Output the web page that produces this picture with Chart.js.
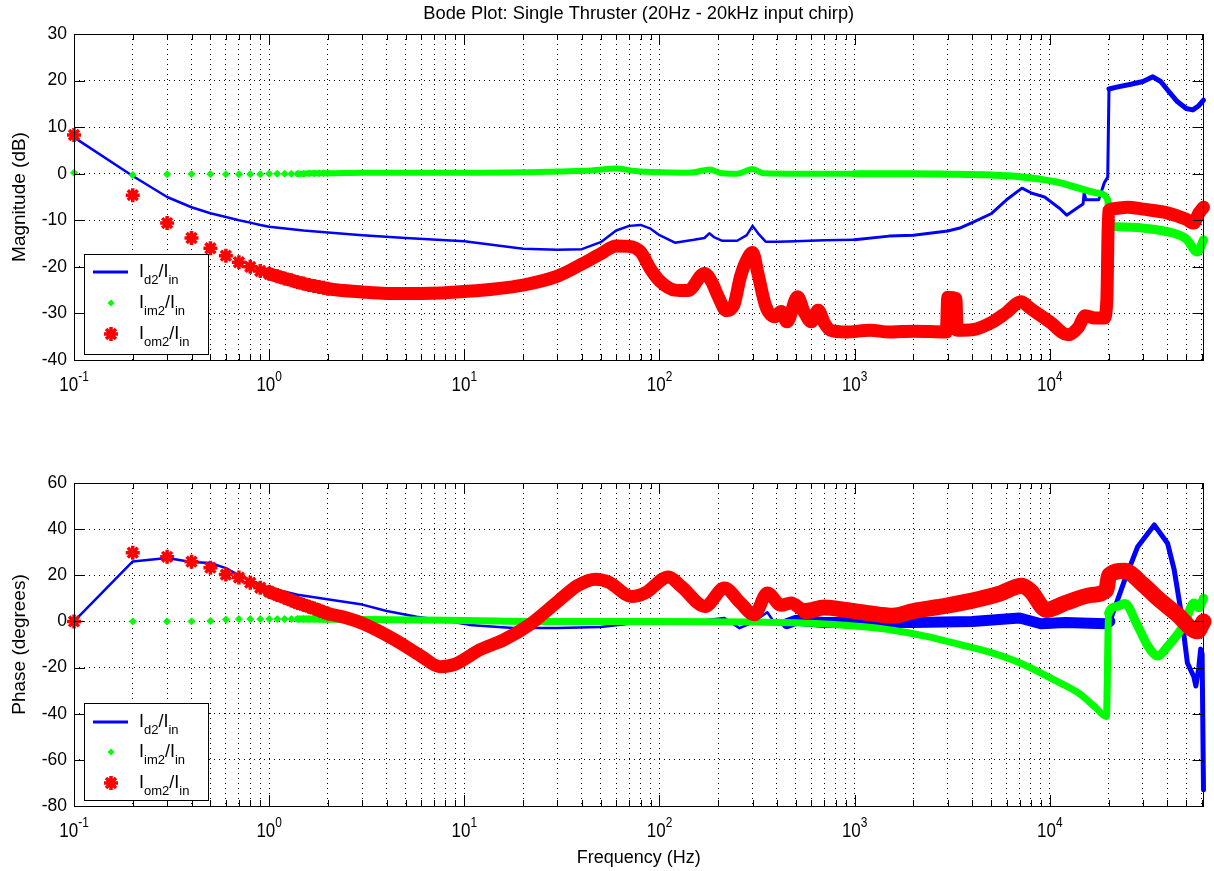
<!DOCTYPE html>
<html>
<head>
<meta charset="utf-8">
<title>Bode Plot: Single Thruster</title>
<script src="https://cdn.jsdelivr.net/npm/chart.js@4/dist/chart.umd.min.js"></script>
<style>
  html, body { margin: 0; padding: 0; background: #fff; }
  #wrap { position: relative; width: 1214px; height: 871px; overflow: hidden; }
  canvas { position: absolute; left: 0; }
  #mag { top: 0; }
  #phase { top: 410px; }
</style>
</head>
<body>
<div id="wrap">
  <canvas id="mag" width="1214" height="410"></canvas>
  <canvas id="phase" width="1214" height="461"></canvas>
</div>
<script>
const FONT = "'Liberation Sans', Arial, Helvetica, sans-serif";
Chart.defaults.font.family = FONT;
Chart.defaults.color = '#000';

const BLUE = '#0000ff';
const GREEN = '#00ff00';
const RED = '#ff0000';
const HIDDEN = 'rgba(0,0,0,0)';

const X_MIN = 0.1;
const X_MAX = 61300;
const decadeValues = [0.1, 1, 10, 100, 1000, 10000];
const decadeExponents = ['-1', '0', '1', '2', '3', '4'];
const minorSteps = [2, 3, 4, 5, 6, 7, 8, 9];
const seriesSubscripts = [['d2', 'in'], ['im2', 'in'], ['om2', 'in']];

// magnitude, dB
const idMagFreq = [0.1, 0.2, 0.3, 0.4, 0.5, 0.6, 0.7, 0.8, 0.9, 1, 1.5, 2, 3, 5, 10, 20, 30, 40, 50, 60,
  70, 80, 90, 100, 120, 150, 170, 180, 190, 210, 250, 280, 300, 320, 350, 400, 500, 700, 1000, 1500,
  2000, 3000, 3500, 4000, 5000, 6000, 7200, 8100, 9400, 11200, 12200, 14100, 14800, 15000, 15300, 17800, 19000, 19800, 20100, 22000,
  26000, 30000, 33700, 37000, 41000, 45000, 50000, 54000, 58000, 61300];
const idMagDb = [7.8, -0.5, -5.0, -7.2, -8.5, -9.3, -10.0, -10.5, -11.0, -11.4, -12.2, -12.6, -13.2, -13.8, -14.5, -16.1, -16.3, -16.2, -14.7, -12.2,
  -11.2, -11.0, -11.8, -13.2, -14.8, -14.2, -13.8, -12.8, -13.6, -14.4, -14.4, -13.2, -11.2, -12.8, -14.6, -14.6, -14.5, -14.3, -14.2, -13.4,
  -13.2, -12.3, -11.6, -10.5, -8.6, -5.6, -3.1, -4.2, -5.0, -7.4, -8.9, -7.1, -6.5, -4.1, -5.6, -5.6, -2.0, -0.7, 18.2, 18.6,
  19.2, 19.8, 20.8, 19.8, 17.5, 15.5, 14.0, 13.7, 14.6, 15.8];

const imMagFreq = [0.1, 0.2, 0.3, 0.4, 0.5, 0.6, 0.7, 0.8, 0.9, 1.0, 1.1, 1.2, 1.3, 1.4, 1.5, 1.6, 1.7, 1.8, 1.9, 2.0,
  3, 5, 10, 20, 30, 45, 60, 75, 100, 130, 150, 180, 210, 250, 300, 340, 500, 1000, 2000, 3000,
  5000, 7200, 9000, 11200, 14100, 17800, 19800, 20200, 22000, 30400, 43200, 50000, 57000, 61300];
const imMagDb = [0.2, -0.3, -0.1, -0.1, -0.1, -0.1, -0.1, -0.1, -0.1, 0, 0, 0, 0, 0, 0, 0.1, 0.1, 0.1, 0.1, 0.1,
  0.2, 0.2, 0.2, 0.3, 0.5, 0.7, 1.1, 0.6, 0.3, 0.2, 0.3, 0.9, 0.1, 0, 1.0, 0.1, 0, 0, 0, -0.1,
  -0.3, -0.7, -1.2, -1.9, -3.1, -4.2, -5.6, -11.2, -11.4, -11.7, -12.8, -14.0, -16.8, -14.2];

const omMagFreq = [0.1, 0.2, 0.3, 0.4, 0.5, 0.6, 0.7, 0.8, 0.9, 1.0, 1.1, 1.2, 1.3, 1.4, 1.5, 1.6, 1.7, 1.8, 1.9, 2.0,
  3, 4, 6, 10, 20, 30, 40, 50, 60, 70, 80, 90, 100, 120, 140, 170, 185, 200, 220, 240,
  260, 280, 300, 320, 350, 390, 420, 450, 510, 550, 600, 650, 700, 750, 900, 1200, 1500, 2000, 2950, 3000,
  3300, 3350, 4000, 5000, 6000, 7100, 8000, 10000, 12400, 14000, 15200, 17000, 19000, 19600, 20000, 21000, 25000, 30000, 40000, 50000,
  54600, 58000, 61300];
const omMagDb = [8.3, -4.6, -10.6, -13.8, -16.0, -17.6, -19.0, -20.0, -20.9, -21.5, -22.0, -22.5, -22.9, -23.3, -23.6, -23.9, -24.1, -24.3, -24.5, -24.7,
  -25.4, -25.7, -25.7, -25.3, -23.9, -22.0, -19.4, -17.2, -15.5, -15.6, -16.8, -20.5, -23.0, -25.0, -25.1, -21.4, -23.2, -26.4, -29.4, -28.3,
  -22.1, -18.5, -16.9, -21.6, -28.4, -30.7, -29.6, -31.8, -26.4, -29.6, -31.8, -29.3, -32.1, -33.6, -34.0, -33.6, -34.0, -33.8, -34.0, -26.5,
  -26.8, -33.6, -33.5, -32.0, -29.8, -27.5, -29.0, -31.8, -34.6, -33.0, -30.5, -31.0, -31.0, -27.0, -8.0, -7.5, -7.2, -7.6, -8.4, -9.8,
  -10.6, -8.5, -7.2];

// phase, degrees
const idPhFreq = [0.1, 0.2, 0.3, 0.4, 0.5, 0.6, 0.7, 0.8, 1.0, 1.4, 1.8, 3, 4, 5.7, 8, 10.6, 17.8, 30, 50, 70,
  100, 150, 215, 257, 300, 357, 380, 450, 500, 700, 1000, 2000, 4000, 7000, 9000, 12000, 19500, 20300, 22300, 24200,
  28200, 34300, 40100, 43400, 46900, 50700, 54700, 56000, 58000, 59300, 60300, 61300];
const idPhDeg = [0, 26.0, 27.5, 25.8, 25.3, 23.1, 20.0, 17.8, 14.5, 11.6, 10.2, 7.3, 4.5, 2.0, 0.3, -1.5, -2.9, -2.9, -2.4, -1.0,
  -0.3, 0, 1.5, -2.9, -0.5, 4.0, 0.6, -1.0, 0.5, -0.5, -0.5, -0.5, 0, 1.5, -1.0, -0.5, -1.0, 0, 9.6, 18.0,
  32.4, 41.8, 33.9, 22.3, 4.8, -18.0, -24.0, -28.0, -20.0, -12.0, -14.0, -73.0];

const imPhFreq = [0.1, 0.2, 0.3, 0.4, 0.5, 0.6, 0.7, 0.8, 0.9, 1.0, 1.1, 1.2, 1.3, 1.4, 1.5, 1.6, 1.7, 1.8, 1.9, 2.0,
  3, 10, 30, 100, 300, 600, 1000, 1570, 2330, 3450, 5000, 7040, 10900, 14000, 17000, 19500, 20000, 22000, 24200, 28000,
  32000, 35700, 40000, 46900, 50000, 54700, 58000, 61300];
const imPhDeg = [0, 0, 0, 0, 0.2, 0.8, 1.0, 1.0, 1.0, 1.0, 1.0, 1.0, 1.0, 1.0, 1.0, 1.0, 1.0, 1.0, 0.9, 0.9,
  0.8, 0.4, 0, 0, -0.2, -0.8, -2.0, -3.8, -6.5, -10.0, -13.5, -18.0, -26.0, -31.0, -37.0, -41.2, 3.6, 6.5, 7.8, -1.4,
  -11.0, -15.0, -11.0, -3.6, 1.0, 8.0, 6.0, 10.0];

const omPhFreq = [0.1, 0.2, 0.3, 0.4, 0.5, 0.6, 0.7, 0.8, 0.9, 1.0, 1.1, 1.2, 1.3, 1.4, 1.5, 1.6, 1.7, 1.8, 1.9, 2.0,
  2.5, 3, 4.5, 6, 7.5, 9, 12, 16, 21.5, 30, 38, 47, 55, 72, 85, 111, 130, 171, 215, 260,
  306, 357, 420, 472, 560, 700, 900, 1200, 1570, 2000, 2800, 4000, 5500, 7200, 8000, 9600, 12000, 16400, 19500, 20100,
  24000, 30000, 35700, 45000, 57000, 61300];
const omPhDeg = [0, 29.8, 28.0, 25.9, 23.3, 20.3, 19.0, 16.8, 14.6, 12.9, 11.5, 10.3, 9.1, 8.0, 7.2, 6.4, 5.6, 4.8, 4.0, 3.4,
  1.5, -0.8, -8.4, -15.0, -19.6, -18.5, -12.3, -7.9, -1.5, 8.5, 15.5, 18.3, 17.0, 10.8, 12.5, 19.3, 15.0, 6.5, 14.5, 8.0,
  2.9, 12.3, 7.0, 8.0, 4.5, 6.0, 5.0, 3.5, 2.5, 4.5, 6.5, 9.0, 12.0, 15.5, 13.0, 5.0, 8.0, 11.5, 13.7, 20.0,
  22.0, 16.0, 10.0, 3.0, -4.3, 0];

// decade + minor positions on the log axis
const xTickValues = [];
decadeValues.forEach((d) => {
  xTickValues.push(d);
  minorSteps.forEach((m) => {
    if (d * m <= X_MAX) xTickValues.push(d * m);
  });
});

function isDecade(v) {
  const l = Math.log10(v);
  return Math.abs(l - Math.round(l)) < 1e-9;
}

function pts(freq, vals) {
  return freq.map((f, i) => ({ x: f, y: vals[i] }));
}

// line width per frequency band: stops = [[upToHz, width], ...]
function byFreq(stops) {
  return (ctx) => {
    const f = ctx.p0.parsed.x;
    for (const [upTo, w] of stops) {
      if (f < upTo) return w;
    }
    return stops[stops.length - 1][1];
  };
}

const lineCommon = {
  fill: false,
  borderCapStyle: 'round',
  borderJoinStyle: 'round',
  clip: false,
};

function makeDatasets(id, im, om, widths) {
  return [
    {
      ...lineCommon,
      label: 'Id2/Iin', data: id, order: 3,
      tension: 0,
      borderColor: BLUE, borderWidth: widths.id[0][1], pointRadius: 0,
      segment: { borderWidth: byFreq(widths.id) },
    },
    {
      ...lineCommon,
      label: 'Iim2/Iin', data: im, order: 2,
      cubicInterpolationMode: 'monotone',
      borderColor: GREEN, backgroundColor: GREEN, borderWidth: widths.im[0][1],
      pointStyle: 'rectRot',
      pointRadius: (c) => (c.raw && c.raw.x <= 2 ? 3.5 : 0),
      pointBorderColor: GREEN, pointBackgroundColor: GREEN, pointBorderWidth: 1,
      segment: {
        borderWidth: byFreq(widths.im),
        borderColor: (c) => (c.p0.parsed.x < 1.4 ? HIDDEN : GREEN),
      },
    },
    {
      ...lineCommon,
      label: 'Iom2/Iin', data: om, order: 1,
      cubicInterpolationMode: 'monotone',
      borderColor: RED, backgroundColor: RED, borderWidth: widths.om[0][1],
      pointStyle: 'star',
      pointRadius: (c) => (c.raw && c.raw.x <= 2 ? 7 : 0),
      pointBorderColor: RED, pointBackgroundColor: RED, pointBorderWidth: 3.5,
      segment: {
        borderWidth: byFreq(widths.om),
        borderColor: (c) => (c.p0.parsed.x < 1 ? HIDDEN : RED),
      },
    },
  ];
}

function drawPower(ctx, cx, baseline, exp) {
  const sx = 0.85;
  ctx.font = `20px ${FONT}`;
  const w10 = ctx.measureText('10').width * sx;
  ctx.font = `14px ${FONT}`;
  const wExp = ctx.measureText(exp).width * sx;
  const left = cx - (w10 + wExp) / 2;
  ctx.save();
  ctx.translate(left, baseline);
  ctx.scale(sx, 1);
  ctx.font = `20px ${FONT}`;
  ctx.fillText('10', 0, 0);
  ctx.restore();
  ctx.save();
  ctx.translate(left + w10, baseline - 10);
  ctx.scale(sx, 1);
  ctx.font = `14px ${FONT}`;
  ctx.fillText(exp, 0, 0);
  ctx.restore();
}

function drawLegend(ctx, box) {
  const rows = box.rows;
  ctx.fillStyle = '#fff';
  ctx.fillRect(box.x, box.y, box.w, box.h);
  ctx.strokeStyle = '#000';
  ctx.lineWidth = 1;
  ctx.strokeRect(box.x + 0.5, box.y + 0.5, box.w, box.h);

  const mx = box.x + 27;
  ctx.strokeStyle = BLUE;
  ctx.lineWidth = 3;
  ctx.beginPath();
  ctx.moveTo(box.x + 9, rows[0]);
  ctx.lineTo(box.x + 44, rows[0]);
  ctx.stroke();

  // green diamond
  ctx.fillStyle = GREEN;
  ctx.beginPath();
  ctx.moveTo(mx, rows[1] - 3.5);
  ctx.lineTo(mx + 3.5, rows[1]);
  ctx.lineTo(mx, rows[1] + 3.5);
  ctx.lineTo(mx - 3.5, rows[1]);
  ctx.closePath();
  ctx.fill();

  // red star
  const r = 7, d = r * Math.SQRT1_2;
  ctx.strokeStyle = RED;
  ctx.lineWidth = 3.5;
  ctx.lineCap = 'butt';
  ctx.beginPath();
  ctx.moveTo(mx - r, rows[2]); ctx.lineTo(mx + r, rows[2]);
  ctx.moveTo(mx, rows[2] - r); ctx.lineTo(mx, rows[2] + r);
  ctx.moveTo(mx - d, rows[2] - d); ctx.lineTo(mx + d, rows[2] + d);
  ctx.moveTo(mx - d, rows[2] + d); ctx.lineTo(mx + d, rows[2] - d);
  ctx.stroke();

  ctx.fillStyle = '#000';
  seriesSubscripts.forEach(([sub1, sub2], i) => {
    const base = rows[i] + 5;
    let tx = box.x + 55;
    [['I', false], [sub1, true], ['/I', false], [sub2, true]].forEach(([txt, sub]) => {
      ctx.font = sub ? `13px ${FONT}` : `18px ${FONT}`;
      ctx.fillText(txt, tx, sub ? base + 7 : base);
      tx += ctx.measureText(txt).width;
    });
  });
}

const matlabAxes = {
  id: 'matlabAxes',
  afterDraw(chart, args, opts) {
    const { ctx, chartArea: a } = chart;
    const x = chart.scales.x;
    const y = chart.scales.y;
    ctx.save();
    ctx.strokeStyle = '#000';
    ctx.lineWidth = 1;
    ctx.beginPath();
    x.ticks.forEach((t) => {
      const px = Math.round(x.getPixelForValue(t.value)) + 0.5;
      const len = isDecade(t.value) ? 11 : 6;
      ctx.moveTo(px, a.bottom);
      ctx.lineTo(px, a.bottom - len);
      ctx.moveTo(px, a.top);
      ctx.lineTo(px, a.top + len);
    });
    y.ticks.forEach((t) => {
      const py = Math.round(y.getPixelForValue(t.value)) + 0.5;
      ctx.moveTo(a.left, py);
      ctx.lineTo(a.left + 11, py);
      ctx.moveTo(a.right, py);
      ctx.lineTo(a.right - 11, py);
    });
    ctx.stroke();
    ctx.strokeRect(Math.round(a.left) + 0.5, Math.round(a.top) + 0.5,
      Math.round(a.right - a.left) - 1, Math.round(a.bottom - a.top));

    ctx.fillStyle = '#000';
    ctx.textAlign = 'left';
    ctx.textBaseline = 'alphabetic';
    decadeValues.forEach((v, i) => {
      drawPower(ctx, x.getPixelForValue(v), a.bottom + 31, decadeExponents[i]);
    });

    drawLegend(ctx, opts.box);
    ctx.restore();
  },
};

function panelOptions(cfg) {
  const gridStyle = { color: '#000', lineWidth: 1, drawTicks: false };
  const borderStyle = { display: false, dash: [1, 4] };
  return {
    responsive: false,
    animation: false,
    events: [],
    layout: { padding: { left: 0, right: 1, top: cfg.padTop, bottom: 0 } },
    plugins: {
      legend: { display: false },
      tooltip: { enabled: false },
      title: cfg.title
        ? {
          display: true, text: cfg.title, color: '#000', fullSize: false,
          font: { size: 18.3, weight: 'normal' }, padding: { top: 3, bottom: 9.04 },
        }
        : { display: false },
      matlabAxes: { box: cfg.legendBox },
    },
    scales: {
      x: {
        type: 'logarithmic',
        min: X_MIN,
        max: X_MAX,
        afterBuildTicks: (s) => { s.ticks = xTickValues.map((v) => ({ value: v })); },
        afterFit: (s) => { s.height = cfg.xHeight; },
        ticks: { display: false, autoSkip: false },
        grid: gridStyle,
        border: borderStyle,
        title: cfg.xTitle
          ? { display: true, text: cfg.xTitle, font: { size: 18 }, padding: { top: 0, bottom: 2 } }
          : { display: false },
      },
      y: {
        type: 'linear',
        min: cfg.yMin,
        max: cfg.yMax,
        afterFit: (s) => { s.width = 74; },
        ticks: { stepSize: cfg.yStep, font: { size: 17.5 }, padding: 7, color: '#000' },
        grid: gridStyle,
        border: borderStyle,
        title: { display: true, text: cfg.yTitle, font: { size: 19 }, padding: { top: 8, bottom: 0 } },
      },
    },
  };
}

new Chart(document.getElementById('mag'), {
  type: 'line',
  data: {
    datasets: makeDatasets(
      pts(idMagFreq, idMagDb), pts(imMagFreq, imMagDb), pts(omMagFreq, omMagDb),
      {
        id: [[1000, 2.5], [20000, 3], [Infinity, 5]],
        im: [[1000, 6], [20000, 7], [Infinity, 9]],
        om: [[Infinity, 13]],
      }
    ),
  },
  options: panelOptions({
    title: 'Bode Plot: Single Thruster (20Hz - 20kHz input chirp)',
    padTop: 0,
    xHeight: 50,
    yMin: -40, yMax: 30, yStep: 10,
    yTitle: 'Magnitude (dB)',
    legendBox: { x: 84, y: 254, w: 124, h: 100, rows: [272, 303, 334] },
  }),
  plugins: [matlabAxes],
});

new Chart(document.getElementById('phase'), {
  type: 'line',
  data: {
    datasets: makeDatasets(
      pts(idPhFreq, idPhDeg), pts(imPhFreq, imPhDeg), pts(omPhFreq, omPhDeg),
      {
        id: [[400, 2.5], [20000, 11], [Infinity, 5]],
        im: [[20000, 7], [Infinity, 9]],
        om: [[500, 13], [Infinity, 16]],
      }
    ),
  },
  options: panelOptions({
    padTop: 73,
    xHeight: 65,
    xTitle: 'Frequency (Hz)',
    yMin: -80, yMax: 60, yStep: 20,
    yTitle: 'Phase (degrees)',
    legendBox: { x: 84, y: 293, w: 124, h: 97, rows: [312, 342, 373] },
  }),
  plugins: [matlabAxes],
});
</script>
</body>
</html>
